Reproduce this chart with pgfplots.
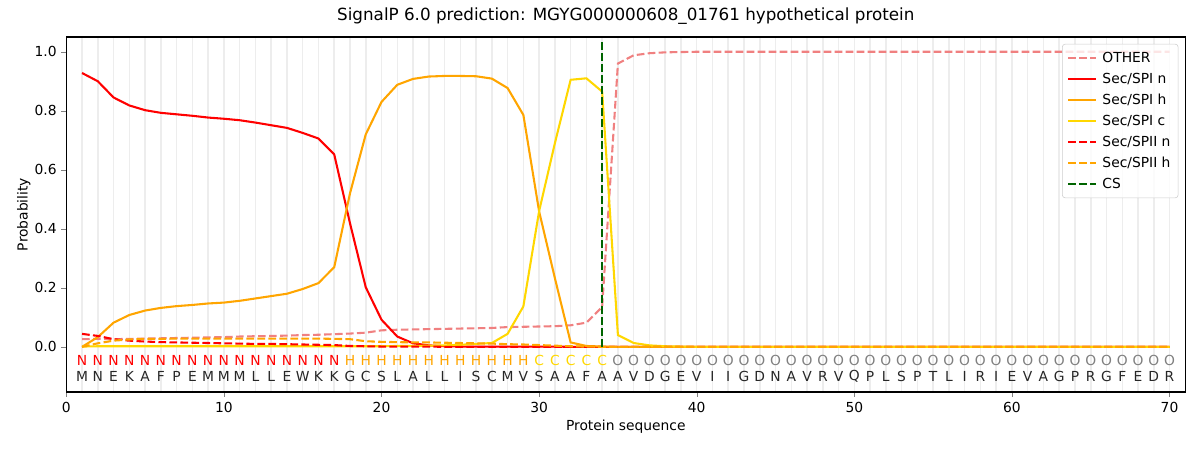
\documentclass[border=0pt]{standalone}
\usepackage{pgfplots}
\pgfplotsset{compat=1.18}
\usepackage{fontspec}
\setmainfont{DejaVu Sans}
\definecolor{cother}{HTML}{F08080}
\definecolor{cred}{HTML}{FF0000}
\definecolor{corange}{HTML}{FFA500}
\definecolor{cgold}{HTML}{FFD700}
\definecolor{cgreen}{HTML}{006400}
\definecolor{cgray}{HTML}{808080}
\definecolor{ctext}{HTML}{262626}
\begin{document}
\begin{tikzpicture}
\begin{axis}[
  scale only axis,
  width=11.19in, height=3.55in,
  xmin=0, xmax=71, ymin=-0.153, ymax=1.05,
  xtick={0,10,...,70},
  ytick={0,0.2,...,1.0},
  yticklabel style={/pgf/number format/.cd,fixed,fixed zerofill,precision=1},
  /pgf/number format/assume math mode=true,
  tick label style={font=\fontsize{10}{12}\selectfont},
  xtick pos=bottom, ytick pos=left,
  tick align=outside,
  major tick length=3.5pt,
  minor xtick={1,2,...,70},
  minor tick length=0pt,
  xminorgrids=true,
  minor grid style={black!7, line width=1.1pt},
  axis line style={line width=0.8pt},
  title={SignalP 6.0 prediction: MGYG000000608\_01761 hypothetical protein},
  title style={at={(axis description cs:0.5,1)}, anchor=base, yshift=6pt, font=\fontsize{12.1}{14}\selectfont},
  xlabel={Protein sequence},
  xlabel style={at={([yshift=-28pt]axis description cs:0.5,0)}, anchor=base, font=\fontsize{10}{12}\selectfont},
  ylabel={Probability},
  ylabel style={at={([xshift=-28pt]axis description cs:0,0.5)}, anchor=base, font=\fontsize{10}{12}\selectfont},
  legend cell align=left,
  legend style={at={([xshift=-5pt,yshift=-5pt]rel axis cs:1,1)}, anchor=north east,
    draw=black!20, rounded corners=2pt, fill=white, fill opacity=0.8, text opacity=1,
    font=\fontsize{10}{12}\selectfont, row sep=2.2pt, column sep=2pt, inner sep=3.5pt},
  legend image code/.code={\draw[#1] (0pt,0pt) -- (20pt,0pt);},
  every axis plot/.append style={line width=1.5pt},
  clip=false,
]
\addplot[cother, dash pattern=on 5.55pt off 2.4pt] coordinates {
(1,0.026)(2,0.027)(3,0.026)(4,0.027)(5,0.028)(6,0.029)(7,0.030)(8,0.031)(9,0.032)(10,0.033)
(11,0.035)(12,0.036)(13,0.037)(14,0.038)(15,0.040)(16,0.041)(17,0.043)(18,0.045)(19,0.048)(20,0.056)
(21,0.058)(22,0.059)(23,0.060)(24,0.061)(25,0.062)(26,0.063)(27,0.064)(28,0.067)(29,0.068)(30,0.069)
(31,0.070)(32,0.073)(33,0.082)(34,0.135)(35,0.960)(36,0.988)(37,0.995)(38,0.998)(39,0.999)(40,1.0)
(41,1.0)(42,1.0)(43,1.0)(44,1.0)(45,1.0)(46,1.0)(47,1.0)(48,1.0)(49,1.0)(50,1.0)
(51,1.0)(52,1.0)(53,1.0)(54,1.0)(55,1.0)(56,1.0)(57,1.0)(58,1.0)(59,1.0)(60,1.0)
(61,1.0)(62,1.0)(63,1.0)(64,1.0)(65,1.0)(66,1.0)(67,1.0)(68,1.0)(69,1.0)(70,1.0)};
\addlegendentry{OTHER}
\addplot[cred] coordinates {
(1,0.928)(2,0.900)(3,0.845)(4,0.818)(5,0.802)(6,0.793)(7,0.788)(8,0.783)(9,0.777)(10,0.773)
(11,0.768)(12,0.760)(13,0.751)(14,0.742)(15,0.725)(16,0.706)(17,0.652)(18,0.419)(19,0.202)(20,0.092)
(21,0.035)(22,0.012)(23,0.005)(24,0.002)(25,0.001)(26,0.001)(27,0.001)(28,0.001)(29,0.001)(30,0.001)
(31,0.001)(32,0.0)(33,0.0)(34,0.0)(35,0.0)(36,0.0)(37,0.0)(38,0.0)(39,0.0)(40,0.0)
(41,0.0)(42,0.0)(43,0.0)(44,0.0)(45,0.0)(46,0.0)(47,0.0)(48,0.0)(49,0.0)(50,0.0)
(51,0.0)(52,0.0)(53,0.0)(54,0.0)(55,0.0)(56,0.0)(57,0.0)(58,0.0)(59,0.0)(60,0.0)
(61,0.0)(62,0.0)(63,0.0)(64,0.0)(65,0.0)(66,0.0)(67,0.0)(68,0.0)(69,0.0)(70,0.0)};
\addlegendentry{Sec/SPI n}
\addplot[corange] coordinates {
(1,0.0)(2,0.033)(3,0.082)(4,0.108)(5,0.123)(6,0.132)(7,0.138)(8,0.142)(9,0.147)(10,0.150)
(11,0.156)(12,0.164)(13,0.172)(14,0.180)(15,0.196)(16,0.216)(17,0.270)(18,0.520)(19,0.720)(20,0.830)
(21,0.888)(22,0.908)(23,0.916)(24,0.918)(25,0.918)(26,0.917)(27,0.909)(28,0.877)(29,0.786)(30,0.459)
(31,0.233)(32,0.015)(33,0.003)(34,0.001)(35,0.0)(36,0.0)(37,0.0)(38,0.0)(39,0.0)(40,0.0)
(41,0.0)(42,0.0)(43,0.0)(44,0.0)(45,0.0)(46,0.0)(47,0.0)(48,0.0)(49,0.0)(50,0.0)
(51,0.0)(52,0.0)(53,0.0)(54,0.0)(55,0.0)(56,0.0)(57,0.0)(58,0.0)(59,0.0)(60,0.0)
(61,0.0)(62,0.0)(63,0.0)(64,0.0)(65,0.0)(66,0.0)(67,0.0)(68,0.0)(69,0.0)(70,0.0)};
\addlegendentry{Sec/SPI h}
\addplot[cgold] coordinates {
(1,0.001)(2,0.002)(3,0.002)(4,0.002)(5,0.002)(6,0.002)(7,0.002)(8,0.002)(9,0.002)(10,0.002)
(11,0.002)(12,0.002)(13,0.002)(14,0.002)(15,0.002)(16,0.002)(17,0.002)(18,0.002)(19,0.002)(20,0.002)
(21,0.003)(22,0.003)(23,0.004)(24,0.005)(25,0.007)(26,0.010)(27,0.013)(28,0.044)(29,0.137)(30,0.460)
(31,0.690)(32,0.905)(33,0.910)(34,0.865)(35,0.040)(36,0.013)(37,0.005)(38,0.002)(39,0.001)(40,0.0)
(41,0.0)(42,0.0)(43,0.0)(44,0.0)(45,0.0)(46,0.0)(47,0.0)(48,0.0)(49,0.0)(50,0.0)
(51,0.0)(52,0.0)(53,0.0)(54,0.0)(55,0.0)(56,0.0)(57,0.0)(58,0.0)(59,0.0)(60,0.0)
(61,0.0)(62,0.0)(63,0.0)(64,0.0)(65,0.0)(66,0.0)(67,0.0)(68,0.0)(69,0.0)(70,0.0)};
\addlegendentry{Sec/SPI c}
\addplot[cred, dash pattern=on 5.55pt off 2.4pt] coordinates {
(1,0.044)(2,0.037)(3,0.026)(4,0.021)(5,0.018)(6,0.016)(7,0.015)(8,0.014)(9,0.013)(10,0.012)
(11,0.011)(12,0.010)(13,0.010)(14,0.009)(15,0.008)(16,0.007)(17,0.006)(18,0.003)(19,0.002)(20,0.001)
(21,0.001)(22,0.001)(23,0.001)(24,0.0)(25,0.0)(26,0.0)(27,0.0)(28,0.0)(29,0.0)(30,0.0)
(31,0.0)(32,0.0)(33,0.0)(34,0.0)(35,0.0)(36,0.0)(37,0.0)(38,0.0)(39,0.0)(40,0.0)
(41,0.0)(42,0.0)(43,0.0)(44,0.0)(45,0.0)(46,0.0)(47,0.0)(48,0.0)(49,0.0)(50,0.0)
(51,0.0)(52,0.0)(53,0.0)(54,0.0)(55,0.0)(56,0.0)(57,0.0)(58,0.0)(59,0.0)(60,0.0)
(61,0.0)(62,0.0)(63,0.0)(64,0.0)(65,0.0)(66,0.0)(67,0.0)(68,0.0)(69,0.0)(70,0.0)};
\addlegendentry{Sec/SPII n}
\addplot[corange, dash pattern=on 5.55pt off 2.4pt] coordinates {
(1,0.0)(2,0.012)(3,0.021)(4,0.025)(5,0.027)(6,0.027)(7,0.028)(8,0.028)(9,0.028)(10,0.028)
(11,0.028)(12,0.028)(13,0.028)(14,0.028)(15,0.028)(16,0.028)(17,0.027)(18,0.026)(19,0.019)(20,0.017)
(21,0.016)(22,0.015)(23,0.015)(24,0.014)(25,0.013)(26,0.012)(27,0.011)(28,0.009)(29,0.008)(30,0.006)
(31,0.004)(32,0.002)(33,0.001)(34,0.0)(35,0.0)(36,0.0)(37,0.0)(38,0.0)(39,0.0)(40,0.0)
(41,0.0)(42,0.0)(43,0.0)(44,0.0)(45,0.0)(46,0.0)(47,0.0)(48,0.0)(49,0.0)(50,0.0)
(51,0.0)(52,0.0)(53,0.0)(54,0.0)(55,0.0)(56,0.0)(57,0.0)(58,0.0)(59,0.0)(60,0.0)
(61,0.0)(62,0.0)(63,0.0)(64,0.0)(65,0.0)(66,0.0)(67,0.0)(68,0.0)(69,0.0)(70,0.0)};
\addlegendentry{Sec/SPII h}
\addplot[cgreen, dash pattern=on 5.55pt off 2.4pt] coordinates {(34,0) (34,1.04)};
\addlegendentry{CS}
\foreach \l/\c [count=\i] in {N/cred,N/cred,N/cred,N/cred,N/cred,N/cred,N/cred,N/cred,N/cred,N/cred,N/cred,N/cred,N/cred,N/cred,N/cred,N/cred,N/cred,H/corange,H/corange,H/corange,H/corange,H/corange,H/corange,H/corange,H/corange,H/corange,H/corange,H/corange,H/corange,C/cgold,C/cgold,C/cgold,C/cgold,C/cgold,O/cgray,O/cgray,O/cgray,O/cgray,O/cgray,O/cgray,O/cgray,O/cgray,O/cgray,O/cgray,O/cgray,O/cgray,O/cgray,O/cgray,O/cgray,O/cgray,O/cgray,O/cgray,O/cgray,O/cgray,O/cgray,O/cgray,O/cgray,O/cgray,O/cgray,O/cgray,O/cgray,O/cgray,O/cgray,O/cgray,O/cgray,O/cgray,O/cgray,O/cgray,O/cgray,O/cgray}{
  \edef\temp{\noexpand\node[text=\c, inner sep=0pt, font=\noexpand\fontsize{10}{12}\noexpand\selectfont] at (axis cs:\i,-0.047) {\l};}\temp
}
\foreach \l [count=\i] in {M,N,E,K,A,F,P,E,M,M,M,L,L,E,W,K,K,G,C,S,L,A,L,L,I,S,C,M,V,S,A,A,F,A,A,V,D,G,E,V,I,I,G,D,N,A,V,R,V,Q,P,L,S,P,T,L,I,R,I,E,V,A,G,P,R,G,F,E,D,R}{
  \edef\temp{\noexpand\node[text=ctext, inner sep=0pt, font=\noexpand\fontsize{10}{12}\noexpand\selectfont] at (axis cs:\i,-0.101) {\l};}\temp
}
\end{axis}
\path (current axis.south west) ++(-0.663in,-0.58in) rectangle ++(12in,4.5in);
\end{tikzpicture}
\end{document}
